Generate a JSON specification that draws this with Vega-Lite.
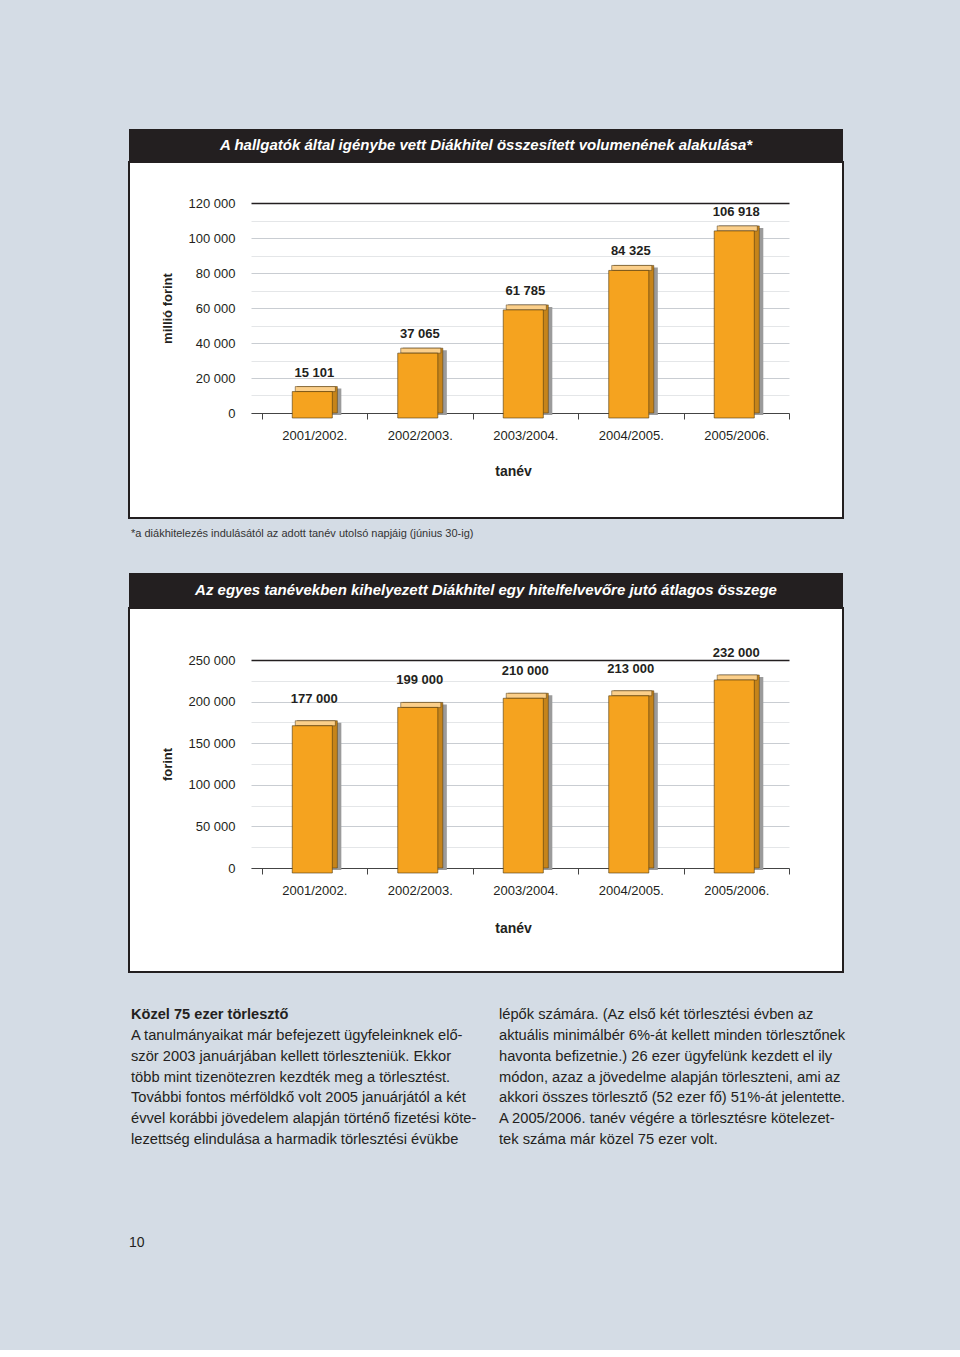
{
  "$schema": "https://vega.github.io/schema/vega-lite/v6.json",
  "background": "#d4dce5",
  "padding": {"left": 128, "top": 129, "right": 96, "bottom": 100},
  "config": {
    "locale": {"number": {"decimal": ",", "thousands": " ", "grouping": [3], "currency": ["", " Ft"]}},
    "font": "Liberation Sans",
    "view": {"stroke": null},
    "axis": {"labelFont": "Liberation Sans", "titleFont": "Liberation Sans", "labelColor": "#231f20", "titleColor": "#231f20"},
    "title": {"font": "Liberation Sans", "color": "#231f20"}
  },
  "datasets": {
    "volumen": [
      {"tanev": "2001/2002.", "ertek": 15101},
      {"tanev": "2002/2003.", "ertek": 37065},
      {"tanev": "2003/2004.", "ertek": 61785},
      {"tanev": "2004/2005.", "ertek": 84325},
      {"tanev": "2005/2006.", "ertek": 106918}
    ],
    "atlag": [
      {"tanev": "2001/2002.", "ertek": 177000},
      {"tanev": "2002/2003.", "ertek": 199000},
      {"tanev": "2003/2004.", "ertek": 210000},
      {"tanev": "2004/2005.", "ertek": 213000},
      {"tanev": "2005/2006.", "ertek": 232000}
    ],
    "szoveg": [
      {"oszlop": 1, "sor": 0, "cim": true, "szoveg": "Közel 75 ezer törlesztő"},
      {"oszlop": 1, "sor": 1, "cim": false, "szoveg": "A tanulmányaikat már befejezett ügyfeleinknek elő-"},
      {"oszlop": 1, "sor": 2, "cim": false, "szoveg": "ször 2003 januárjában kellett törleszteniük. Ekkor"},
      {"oszlop": 1, "sor": 3, "cim": false, "szoveg": "több mint tizenötezren kezdték meg a törlesztést."},
      {"oszlop": 1, "sor": 4, "cim": false, "szoveg": "További fontos mérföldkő volt 2005 januárjától a két"},
      {"oszlop": 1, "sor": 5, "cim": false, "szoveg": "évvel korábbi jövedelem alapján történő fizetési köte-"},
      {"oszlop": 1, "sor": 6, "cim": false, "szoveg": "lezettség elindulása a harmadik törlesztési évükbe"},
      {"oszlop": 2, "sor": 0, "cim": false, "szoveg": "lépők számára. (Az első két törlesztési évben az"},
      {"oszlop": 2, "sor": 1, "cim": false, "szoveg": "aktuális minimálbér 6%-át kellett minden törlesztőnek"},
      {"oszlop": 2, "sor": 2, "cim": false, "szoveg": "havonta befizetnie.) 26 ezer ügyfelünk kezdett el ily"},
      {"oszlop": 2, "sor": 3, "cim": false, "szoveg": "módon, azaz a jövedelme alapján törleszteni, ami az"},
      {"oszlop": 2, "sor": 4, "cim": false, "szoveg": "akkori összes törlesztő (52 ezer fő) 51%-át jelentette."},
      {"oszlop": 2, "sor": 5, "cim": false, "szoveg": "A 2005/2006. tanév végére a törlesztésre kötelezet-"},
      {"oszlop": 2, "sor": 6, "cim": false, "szoveg": "tek száma már közel 75 ezer volt."}
    ]
  },
  "spacing": 33,
  "vconcat": [
    {
      "spacing": 0,
      "vconcat": [
        {
          "width": 714, "height": 32,
          "view": {"fill": "#231f20", "stroke": null},
          "data": {"values": [{"cim": "A hallgatók által igénybe vett Diákhitel összesített volumenének alakulása*"}]},
          "mark": {"type": "text", "color": "white", "font": "Liberation Sans Narrow, Liberation Sans", "fontSize": 15, "fontWeight": "bold", "fontStyle": "italic", "baseline": "middle", "align": "center"},
          "encoding": {"text": {"field": "cim"}}
        },
        {
          "width": 714, "height": 356,
          "view": {"fill": "white", "stroke": "#231f20", "strokeWidth": 2},
          "title": {"text": "*a diákhitelezés indulásától az adott tanév utolsó napjáig (június 30-ig)", "orient": "bottom", "anchor": "start", "fontSize": 11, "fontWeight": "normal", "baseline": "top", "offset": 10, "dx": 2, "color": "#333"},
          "data": {"name": "volumen"},
          "encoding": {
            "x": {"field": "tanev", "type": "nominal", "sort": null,
              "scale": {"range": [122, 660], "paddingInner": 0, "paddingOuter": 0.05, "align": 1},
              "axis": {"title": "tanév", "titleX": 384, "titleFontSize": 14, "titleFontWeight": "bold", "titlePadding": 22, "labelAngle": 0, "labelFontSize": 13, "labelPadding": 10, "tickBand": "extent", "tickSize": 6, "tickColor": "#444", "domainColor": "#444", "domainWidth": 1, "offset": -105, "grid": false, "zindex": 0}},
            "y": {"field": "ertek", "type": "quantitative",
              "scale": {"domain": [0, 120000], "range": [251, 41], "nice": false, "zero": true},
              "axis": {"title": "millió forint", "titleFontSize": 13, "titleFontWeight": "bold", "titlePadding": 14, "values": [0, 10000, 20000, 30000, 40000, 50000, 60000, 70000, 80000, 90000, 100000, 110000, 120000], "format": ",d", "labelExpr": "datum.value % 20000 == 0 ? datum.label : ''", "labelFontSize": 13, "labelPadding": 16, "ticks": false, "domain": false, "offset": -122, "zindex": 0,
                "grid": true,
                "gridColor": {"condition": [{"test": "datum.value == 120000", "value": "#231f20"}, {"test": "datum.value % 20000 == 0", "value": "#c9cdd2"}], "value": "#e4e6e8"},
                "gridWidth": {"condition": {"test": "datum.value == 120000", "value": 1.5}, "value": 1}}}
          },
          "layer": [
            {"mark": {"type": "bar", "color": "#9b9b9b", "width": {"band": 0.38}, "xOffset": 7, "yOffset": 2, "y2Offset": 5}},
            {"mark": {"type": "bar", "color": "#c6841a", "stroke": "#4a3510", "strokeWidth": 0.5, "width": {"band": 0.38}, "xOffset": 3}},
            {"mark": {"type": "bar", "color": "#fbcf8a", "stroke": "#4a3510", "strokeWidth": 0.5, "width": {"band": 0.38}, "xOffset": 1, "y2Offset": 5}, "encoding": {"y2": {"field": "ertek"}}},
            {"mark": {"type": "bar", "color": "#f5a31f", "stroke": "#4a3510", "strokeWidth": 0.6, "width": {"band": 0.38}, "xOffset": -2, "yOffset": 5, "y2Offset": 5}},
            {"mark": {"type": "text", "fontSize": 13, "fontWeight": "bold", "color": "#231f20", "baseline": "middle", "dy": -14}, "encoding": {"text": {"field": "ertek", "type": "quantitative", "format": ",d"}}}
          ]
        }
      ]
    },
    {
      "spacing": 0,
      "vconcat": [
        {
          "width": 714, "height": 34,
          "view": {"fill": "#231f20", "stroke": null},
          "data": {"values": [{"cim": "Az egyes tanévekben kihelyezett Diákhitel egy hitelfelvevőre jutó átlagos összege"}]},
          "mark": {"type": "text", "color": "white", "font": "Liberation Sans Narrow, Liberation Sans", "fontSize": 15, "fontWeight": "bold", "fontStyle": "italic", "baseline": "middle", "align": "center"},
          "encoding": {"text": {"field": "cim"}}
        },
        {
          "width": 714, "height": 364,
          "view": {"fill": "white", "stroke": "#231f20", "strokeWidth": 2},
          "data": {"name": "atlag"},
          "encoding": {
            "x": {"field": "tanev", "type": "nominal", "sort": null,
              "scale": {"range": [122, 660], "paddingInner": 0, "paddingOuter": 0.05, "align": 1},
              "axis": {"title": "tanév", "titleX": 384, "titleFontSize": 14, "titleFontWeight": "bold", "titlePadding": 24, "labelAngle": 0, "labelFontSize": 13, "labelPadding": 10, "tickBand": "extent", "tickSize": 6, "tickColor": "#444", "domainColor": "#444", "domainWidth": 1, "offset": -104, "grid": false, "zindex": 0}},
            "y": {"field": "ertek", "type": "quantitative",
              "scale": {"domain": [0, 250000], "range": [260, 52], "nice": false, "zero": true},
              "axis": {"title": "forint", "titleFontSize": 13, "titleFontWeight": "bold", "titlePadding": 14, "values": [0, 25000, 50000, 75000, 100000, 125000, 150000, 175000, 200000, 225000, 250000], "format": ",d", "labelExpr": "datum.value % 50000 == 0 ? datum.label : ''", "labelFontSize": 13, "labelPadding": 16, "ticks": false, "domain": false, "offset": -122, "zindex": 0,
                "grid": true,
                "gridColor": {"condition": [{"test": "datum.value == 250000", "value": "#231f20"}, {"test": "datum.value % 50000 == 0", "value": "#c9cdd2"}], "value": "#e4e6e8"},
                "gridWidth": {"condition": {"test": "datum.value == 250000", "value": 1.5}, "value": 1}}}
          },
          "layer": [
            {"mark": {"type": "bar", "color": "#9b9b9b", "width": {"band": 0.38}, "xOffset": 7, "yOffset": 2, "y2Offset": 5}},
            {"mark": {"type": "bar", "color": "#c6841a", "stroke": "#4a3510", "strokeWidth": 0.5, "width": {"band": 0.38}, "xOffset": 3}},
            {"mark": {"type": "bar", "color": "#fbcf8a", "stroke": "#4a3510", "strokeWidth": 0.5, "width": {"band": 0.38}, "xOffset": 1, "y2Offset": 5}, "encoding": {"y2": {"field": "ertek"}}},
            {"mark": {"type": "bar", "color": "#f5a31f", "stroke": "#4a3510", "strokeWidth": 0.6, "width": {"band": 0.38}, "xOffset": -2, "yOffset": 5, "y2Offset": 5}},
            {"mark": {"type": "text", "fontSize": 13, "fontWeight": "bold", "color": "#231f20", "baseline": "middle", "dy": -22}, "encoding": {"text": {"field": "ertek", "type": "quantitative", "format": ",d"}}}
          ]
        }
      ]
    },
    {
      "width": 736, "height": 141,
      "data": {"name": "szoveg"},
      "title": {"text": "10", "orient": "bottom", "anchor": "start", "fontSize": 14, "fontWeight": "normal", "baseline": "top", "offset": 88, "color": "#231f20"},
      "encoding": {
        "x": {"field": "oszlop", "type": "ordinal", "bandPosition": 0, "axis": null, "scale": {"type": "band", "paddingInner": 0, "paddingOuter": 0}},
        "y": {"field": "sor", "type": "ordinal", "axis": null, "scale": {"type": "point", "padding": 0.38}},
        "text": {"field": "szoveg"}
      },
      "layer": [
        {"transform": [{"filter": "datum.cim"}], "mark": {"type": "text", "align": "left", "baseline": "middle", "fontSize": 14.6, "fontWeight": "bold", "color": "#231f20", "dx": 2}},
        {"transform": [{"filter": "!datum.cim"}], "mark": {"type": "text", "align": "left", "baseline": "middle", "fontSize": 14.7, "color": "#231f20", "dx": 2}}
      ]
    }
  ]
}
